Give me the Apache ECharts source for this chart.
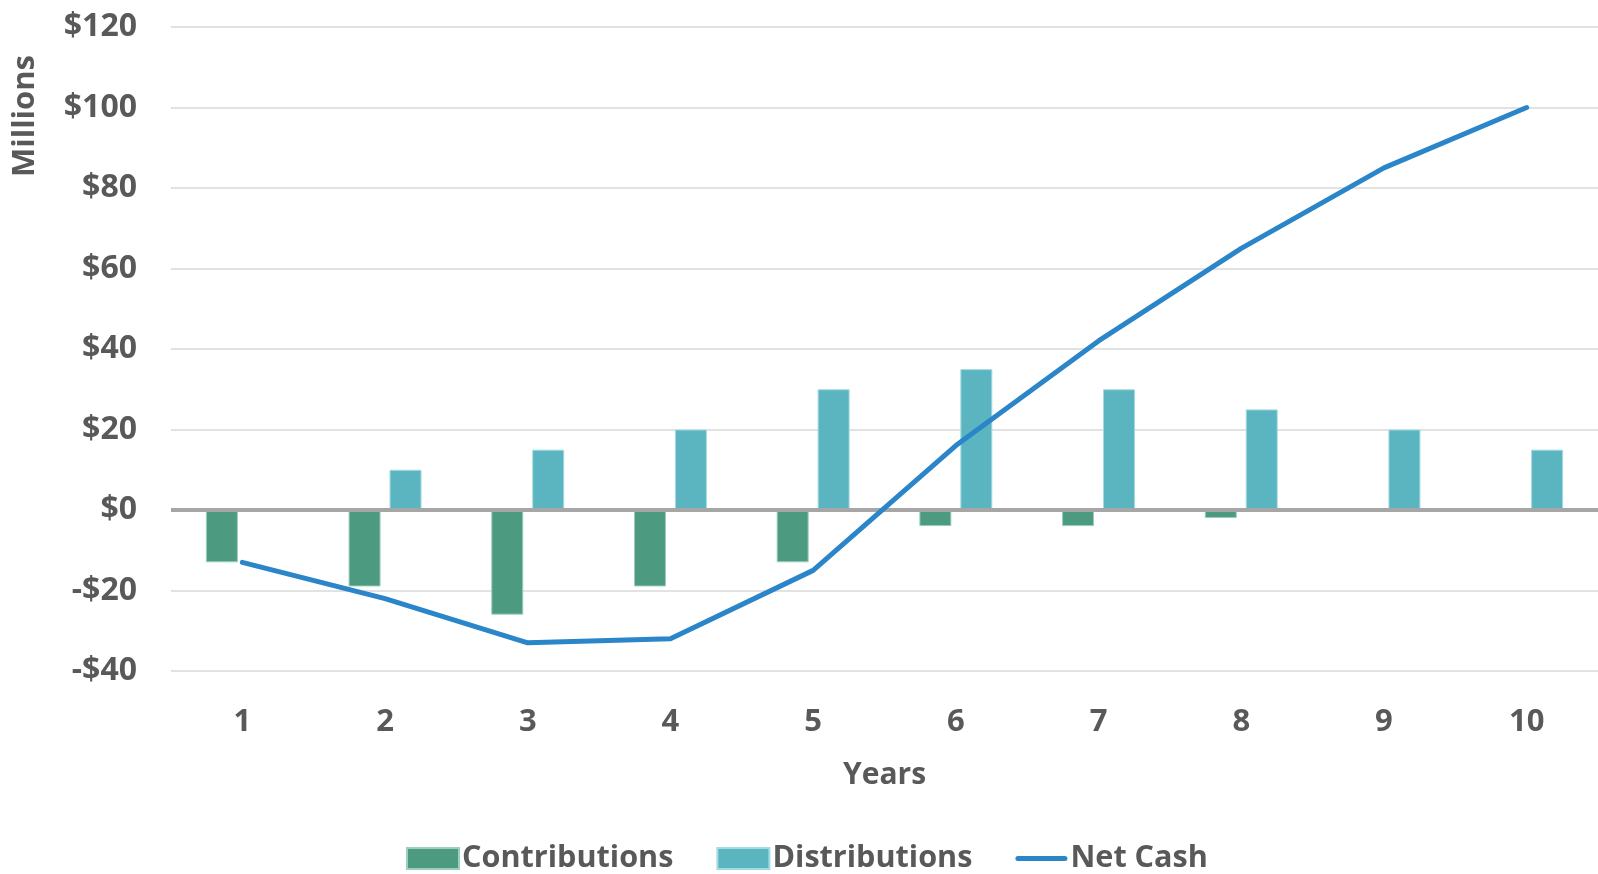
<!DOCTYPE html>
<html>
<head>
<meta charset="utf-8">
<script src="https://cdn.jsdelivr.net/npm/echarts@6/dist/echarts.min.js"></script>
<style>
  html, body { margin: 0; padding: 0; background: #fff; }
  #chart { width: 1598px; height: 874px; }
</style>
</head>
<body>
<div id="chart"></div>
<script>
const years = ['1', '2', '3', '4', '5', '6', '7', '8', '9', '10'];
const contributions = [-13, -19, -26, -19, -13, -4, -4, -2, 0, 0];
const distributions = [0, 10, 15, 20, 30, 35, 30, 25, 20, 15];
const netCash = [-13, -22, -33, -32, -15, 16, 42, 65, 85, 100];

const FONT = '"Open Sans", "DejaVu Sans", sans-serif';
const GREY = '#595959';

const chart = echarts.init(document.getElementById('chart'), null, { renderer: 'canvas' });
chart.setOption({
  animation: false,
  textStyle: { fontFamily: FONT },
  grid: { left: 171, right: -4, top: 27, bottom: 203, containLabel: false },
  legend: {
    left: 401,
    top: 838,
    itemWidth: 52,
    itemHeight: 21,
    itemGap: 43,
    textStyle: { fontFamily: FONT, fontSize: 30.6, fontWeight: 'bold', color: GREY, lineHeight: 30, padding: [0, 0, 0, -2] },
    data: [
      { name: 'Contributions', icon: 'rect' },
      { name: 'Distributions', icon: 'rect' },
      { name: 'Net Cash', icon: 'path://M2.5,0 L49.5,0 A2.5,2.5 0 0 1 49.5,5 L2.5,5 A2.5,2.5 0 0 1 2.5,0 Z' }
    ]
  },
  graphic: [{
    type: 'text',
    x: 25,
    y: 116,
    rotation: Math.PI / 2,
    style: {
      text: 'Millions',
      font: 'bold 31px ' + FONT,
      fill: GREY,
      align: 'center',
      verticalAlign: 'middle'
    }
  }],
  xAxis: {
    type: 'category',
    data: years,
    name: 'Years',
    nameLocation: 'middle',
    nameGap: 89,
    nameTextStyle: { fontFamily: FONT, fontSize: 30, fontWeight: 'bold', color: GREY },
    axisLine: { show: false, onZero: false },
    axisTick: { show: false },
    axisLabel: { margin: 36, fontFamily: FONT, fontSize: 31, fontWeight: 'bold', color: GREY }
  },
  yAxis: {
    type: 'value',
    min: -40,
    max: 120,
    interval: 20,
    axisLine: { show: false },
    axisTick: { show: false },
    splitLine: { lineStyle: { color: '#D9D9D9', width: 1.5 } },
    axisLabel: {
      margin: 34,
      fontFamily: FONT, fontSize: 32, fontWeight: 'bold', color: GREY,
      formatter: v => (v < 0 ? '-$' + Math.abs(v) : '$' + v)
    }
  },
  series: [
    {
      name: 'Contributions',
      type: 'bar',
      data: contributions,
      barWidth: 32,
      barGap: '28%',
      itemStyle: { color: '#4C9A80', borderColor: '#9ccfbd', borderWidth: 1 },
      markLine: {
        silent: true,
        symbol: 'none',
        label: { show: false },
        lineStyle: { color: '#A6A6A6', width: 4, type: 'solid' },
        data: [{ yAxis: 0 }],
        z: 5
      }
    },
    {
      name: 'Distributions',
      type: 'bar',
      data: distributions,
      barWidth: 32,
      barGap: '28%',
      itemStyle: { color: '#5AB5C0', borderColor: '#a4dbe1', borderWidth: 1 }
    },
    {
      name: 'Net Cash',
      type: 'line',
      data: netCash,
      symbol: 'none',
      showSymbol: false,
      z: 10,
      lineStyle: { color: '#2A85C9', width: 5, cap: 'round', join: 'round' },
      itemStyle: { color: '#2A85C9' }
    }
  ]
});
</script>
</body>
</html>
